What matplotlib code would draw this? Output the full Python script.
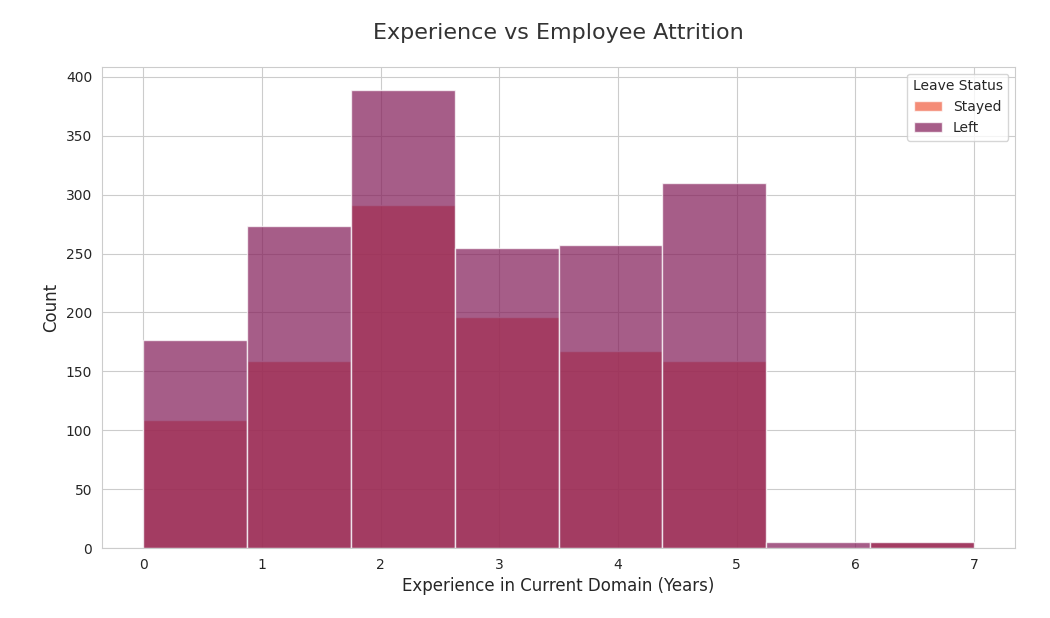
import numpy as np
import matplotlib
matplotlib.use("Agg")
import matplotlib.pyplot as plt
import seaborn as sns

# counts per bin (8 bins over 0..7 years)
stayed = [109, 159, 291, 196, 167, 159, 0, 5]
left = [177, 273, 389, 255, 257, 310, 5, 5]
labels = ["Stayed", "Left"]

sns.set_style("whitegrid")
plt.rcParams['font.family'] = ['DejaVu Sans']

colors = sns.color_palette("rocket", 2)
c_stayed = colors[1]
c_left = colors[0]

edges = np.linspace(0, 7, len(left) + 1)
width = np.diff(edges)

fig, ax = plt.subplots(figsize=(10.5, 6.18), dpi=100)
ax.bar(edges[:-1], stayed, width=width, align="edge", color=c_stayed,
       alpha=0.72, edgecolor="white", linewidth=1, label=labels[0])
ax.bar(edges[:-1], left, width=width, align="edge", color=c_left,
       alpha=0.72, edgecolor="white", linewidth=1, label=labels[1])

ax.set_title("Experience vs Employee Attrition", fontsize=16, pad=20, color="#333333")
ax.set_xlabel("Experience in Current Domain (Years)", fontsize=12)
ax.set_ylabel("Count", fontsize=12)
ax.legend(title="Leave Status", loc="upper right")

plt.subplots_adjust(left=0.097, right=0.967, top=0.892, bottom=0.113)
plt.savefig("out.png", dpi=100)
